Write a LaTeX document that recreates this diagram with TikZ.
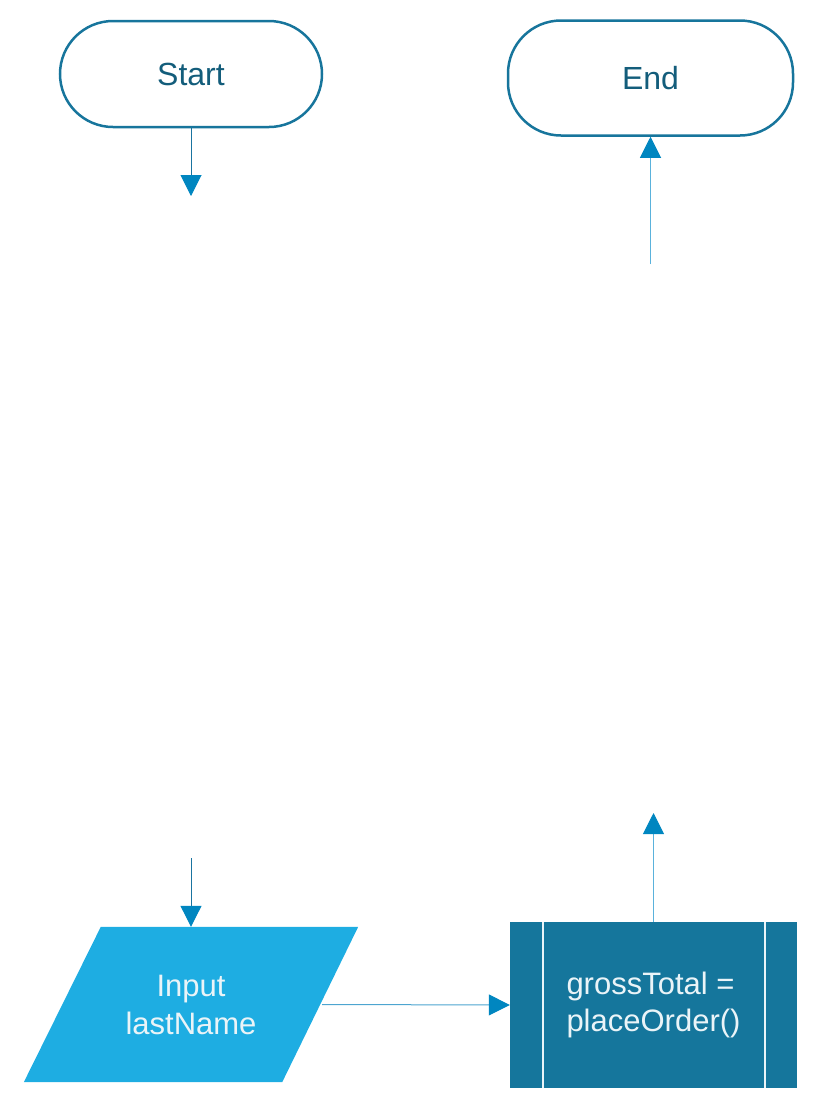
\documentclass[tikz,border=0pt]{standalone}
\usepackage{fontspec}
\setmainfont{Liberation Sans}
\usetikzlibrary{arrows.meta,backgrounds}
\definecolor{termline}{HTML}{17759C}
\definecolor{termtext}{HTML}{135D7B}
\definecolor{inputfill}{HTML}{1EADE2}
\definecolor{procfill}{HTML}{15769C}
\definecolor{arrowhead}{HTML}{0086C0}
\definecolor{darkline}{HTML}{1A74A0}
\definecolor{lightline}{HTML}{5AB2DC}
\definecolor{softwhite}{HTML}{EAF4F8}
\tikzset{
  terminal/.style={draw=termline, line width=2.5pt, fill=white, rectangle,
    rounded corners=53pt, text=termtext, inner sep=0pt,
    font=\fontsize{32}{38}\selectfont},
  inputbox/.style={rectangle, minimum width=334pt, minimum height=155pt,
    draw=none, inner sep=0pt, text=softwhite, align=center,
    font=\fontsize{31}{38}\selectfont},
  procbox/.style={rectangle, fill=procfill, draw=none, minimum width=287pt,
    minimum height=166pt, inner sep=0pt, text=softwhite, align=left,
    font=\fontsize{31}{37}\selectfont},
  conn/.style={line width=1pt, -{Triangle[width=21pt,length=21pt,color=arrowhead]}},
}
\begin{document}
\begin{tikzpicture}[x=1pt,y=-1pt]
\useasboundingbox (0,0) rectangle (820,1112);
\node[terminal, minimum width=262pt, minimum height=106pt] (start) at (191,74) {Start};
\node[terminal, minimum width=285pt, minimum height=115pt] (end) at (650.5,78) {End};
\node[inputbox] (input) at (191,1004.5) {Input\\lastName};
\begin{scope}[on background layer]
\fill[inputfill] ([xshift=77pt]input.north west) -- (input.north east)
  -- ([xshift=-76pt]input.south east) -- (input.south west) -- cycle;
\end{scope}
\node[procbox] (proc) at (653.5,1005) {grossTotal =\\placeOrder()};
\draw[softwhite, line width=2pt] ([xshift=33pt]proc.north west) -- ([xshift=33pt]proc.south west);
\draw[softwhite, line width=2pt] ([xshift=-32pt]proc.north east) -- ([xshift=-32pt]proc.south east);
\coordinate (c1) at (191,196);
\coordinate (c2) at (650.5,264);
\coordinate (c3) at (191,858);
\coordinate (c4) at (653.5,813);
\draw[conn, darkline] (start.south) -- (c1);
\draw[conn, lightline] (c2) -- (end.south);
\draw[conn, darkline] (c3) -- (input.north);
\draw[conn, lightline!80!darkline] ([xshift=-36pt]input.east) -- (proc.west);
\draw[conn, lightline] (proc.north) -- (c4);
\end{tikzpicture}
\end{document}
